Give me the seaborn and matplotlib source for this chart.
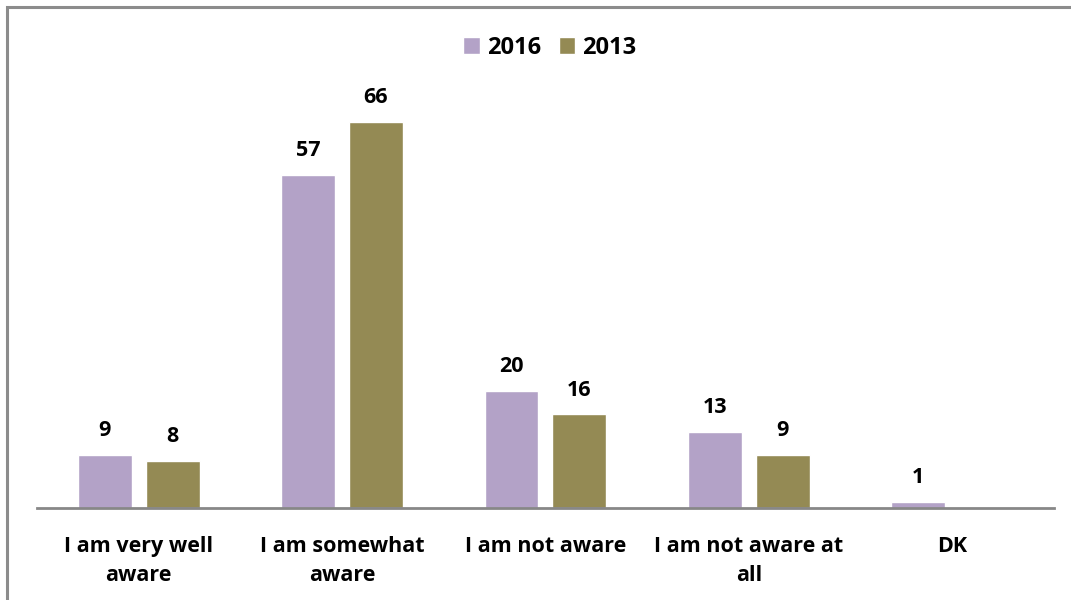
import matplotlib
matplotlib.use("Agg")
import matplotlib.pyplot as plt
from matplotlib.lines import Line2D
import numpy as np
import pandas as pd
import seaborn as sns

categories = ["I am very well\naware", "I am somewhat\naware", "I am not aware",
              "I am not aware at\nall", "DK"]
years = ["2016", "2013"]
values_2016 = [9, 57, 20, 13, 1]
values_2013 = [8, 66, 16, 9, np.nan]
colors = {"2016": "#B3A2C7", "2013": "#948A54"}

df = pd.DataFrame({
    "category": categories * 2,
    "year": ["2016"] * len(categories) + ["2013"] * len(categories),
    "value": values_2016 + values_2013,
})

sns.set_theme(style="white")
plt.rcParams["font.family"] = ["Open Sans", "DejaVu Sans"]
plt.rcParams["text.color"] = "black"

FS = 15.5

fig = plt.figure(figsize=(10.71, 6.0), dpi=100, facecolor="white", edgecolor="white")
fig.patch.set_linewidth(0)
ax = fig.add_axes([0.0345, 0.1533, 0.9495, 0.6825])

sns.barplot(data=df, x="category", y="value", hue="year", hue_order=years,
            palette=colors, width=0.668, gap=0.207, saturation=1,
            order=categories, ax=ax, legend=True)

for container in ax.containers:
    labels = ["" if np.isnan(v) else f"{v:.0f}" for v in container.datavalues]
    ax.bar_label(container, labels=labels, padding=10, fontsize=FS,
                 fontweight="bold", color="black")

ax.set_xlim(-0.5, len(categories) - 0.5)
ax.set_ylim(0, 70)
ax.set_xlabel("")
ax.set_ylabel("")
ax.set_yticks([])
ax.tick_params(axis="x", length=0, pad=20, colors="black")
for lbl in ax.get_xticklabels():
    lbl.set_fontsize(FS)
    lbl.set_fontweight("bold")
    lbl.set_color("black")
    lbl.set_linespacing(1.52)
    lbl.set_verticalalignment("top")

for side in ["top", "right", "left"]:
    ax.spines[side].set_visible(False)
ax.spines["bottom"].set_color("#878787")
ax.spines["bottom"].set_linewidth(2)

leg = ax.legend(loc="center", bbox_to_anchor=(550 / 1071, 552 / 600),
                bbox_transform=fig.transFigure,
                ncol=2, frameon=False, handlelength=0.7, handleheight=0.7,
                handletextpad=0.3, columnspacing=0.75,
                prop={"family": "Open Sans", "weight": "bold", "size": 17})
for t in leg.get_texts():
    t.set_color("black")

# outer frame of the chart area: top and left edges
x0, y0 = 7 / 1071, 593 / 600
fig.add_artist(Line2D([x0, x0, 1.01], [-0.01, y0, y0], transform=fig.transFigure,
                      color="#8C8C8C", linewidth=2.2, solid_joinstyle="miter"))

fig.savefig("out.png", dpi=100, facecolor="white", edgecolor="none")
